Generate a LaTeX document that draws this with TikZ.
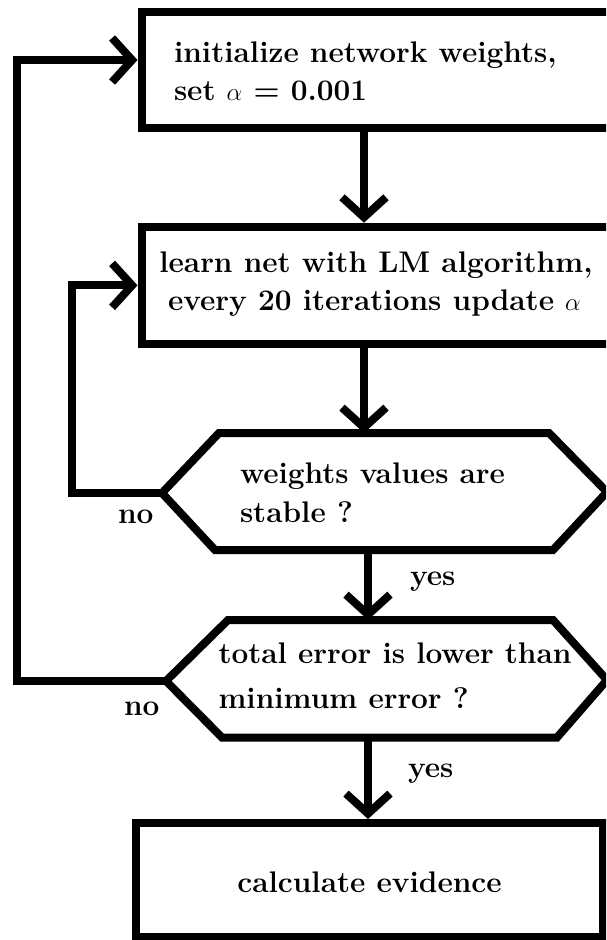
\documentclass[tikz,border=0pt]{standalone}
\usepackage{fontspec}
\usetikzlibrary{arrows.meta}
\begin{document}
\begin{tikzpicture}[x=1pt,y=-1pt,
  line width=8pt,
  box/.style={draw, rectangle, inner sep=0pt, line width=8pt},
  hexa/.style={draw, line width=8pt},
  arr/.style={line width=8pt, -{Straight Barb[length=20pt,width=44pt]}},
  txt/.style={font=\fontsize{29.8}{38}\selectfont\bfseries, inner sep=0pt},
]
\useasboundingbox (0,0) rectangle (606,940);
\clip (0,0) rectangle (606,940);

% boxes
\node[box, minimum width=472.5pt, minimum height=116.6pt] (b1) at (377.75,70) {};
\node[box, minimum width=472.5pt, minimum height=117.3pt] (b2) at (377.75,285.35) {};
\node[box, minimum width=466.5pt, minimum height=113.5pt] (b5) at (369.25,879.75) {};

% hexagon 1
\coordinate (h1tl) at (219,433);
\coordinate (h1tr) at (549,433);
\coordinate (h1r) at (607,492);
\coordinate (h1br) at (553,550);
\coordinate (h1bl) at (215,550);
\coordinate (h1l) at (162,493);
\coordinate (h1t) at (364,433);
\coordinate (h1b) at (368,550);
\draw[hexa] (h1tl) -- (h1tr) -- (h1r) -- (h1br) -- (h1bl) -- (h1l) -- cycle;

% hexagon 2
\coordinate (h2tl) at (228,620);
\coordinate (h2tr) at (553,620);
\coordinate (h2r) at (607,680);
\coordinate (h2br) at (557,737.5);
\coordinate (h2bl) at (222,737.5);
\coordinate (h2l) at (166,681);
\coordinate (h2t) at (368,620);
\coordinate (h2b) at (368,737.5);
\draw[hexa] (h2tl) -- (h2tr) -- (h2r) -- (h2br) -- (h2bl) -- (h2l) -- cycle;

% connectors
\coordinate (xa) at (364,0);
\coordinate (xb) at (368,0);
\draw[arr] (b1.south -| xa) -- (b2.north -| xa);
\draw[arr] (b2.south -| xa) -- (h1t);
\draw[arr] (h1b) -- (h2t);
\draw[arr] (h2b) -- (b5.north -| xb);
\draw[arr] (h1l) -- ++(-90,0) |- (b2.west);
\draw[arr] (h2l) -- ++(-149,0) |- ([yshift=10pt]b1.west);

% texts
\node[txt, anchor=base west] (t1a) at (170,62) {initialize network weights,};
\node[txt, anchor=base west] (t1b) at (170,100) {set $\alpha$ = 0.001};
\node[txt, anchor=base] (t2a) at (376,272) {learn net with LM algorithm,};
\node[txt, anchor=base] (t2b) at (374.5,310) {every 20 iterations update $\alpha$};
\node[txt, anchor=base west] (t3a) at (236,483) {weights values are};
\node[txt, anchor=base west] (t3b) at (236,522) {stable ?};
\node[txt, anchor=base west] (t4a) at (214.5,663) {total error is lower than};
\node[txt, anchor=base west] (t4b) at (214.5,708) {minimum error ?};
\node[txt, anchor=base] (t5) at (369.5,892) {calculate evidence};
\node[txt, anchor=base west] (no1) at (114,523) {no};
\node[txt, anchor=base west] (no2) at (120,715) {no};
\node[txt, anchor=base west] (yes1) at (406,585) {yes};
\node[txt, anchor=base west] (yes2) at (404,777) {yes};
\end{tikzpicture}
\end{document}
